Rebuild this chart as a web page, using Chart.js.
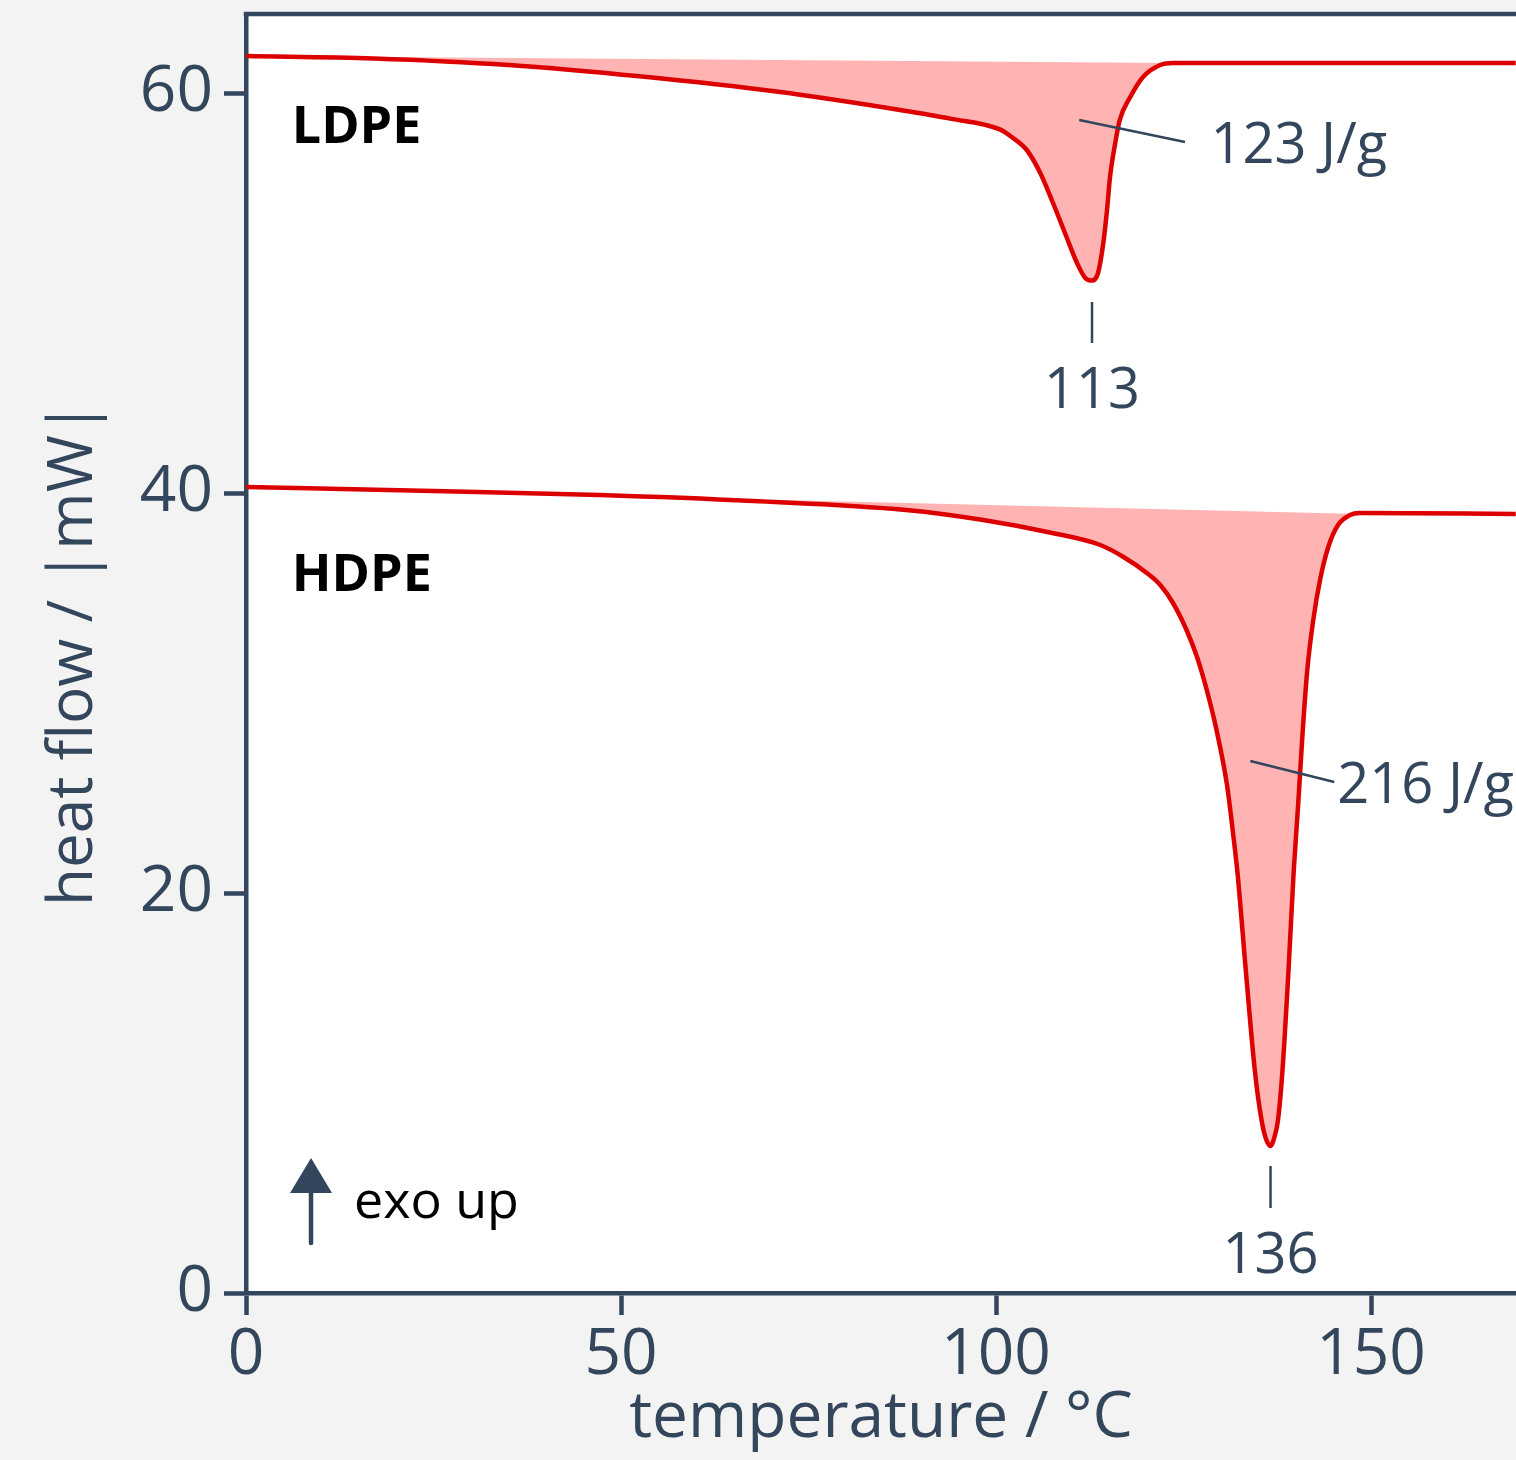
<!DOCTYPE html>
<html>
<head>
<meta charset="utf-8">
<title>DSC LDPE / HDPE</title>
<script src="https://cdn.jsdelivr.net/npm/chart.js@4.4.1/dist/chart.umd.min.js"></script>
<style>
  html, body { margin: 0; padding: 0; background: #f3f3f3; }
  canvas { display: block; }
</style>
</head>
<body>
<canvas id="dscChart" width="1516" height="1460"></canvas>
<script>
var ldpeTemp = [0, 17, 35, 52.8, 70.7, 87.2, 93.9, 100.5, 101.9, 104.1, 105.9, 107.6, 109.4, 110.8, 111.9, 112.8,
                113.6, 114.3, 114.8, 115.2, 115.9, 116.5, 117.9, 119.6, 121.9, 123.6, 169.3];
var ldpeFlow = [61.85, 61.73, 61.4, 60.82, 60.07, 59.15, 58.72, 58.18, 57.85, 57.15, 56.0, 54.5, 52.8, 51.5, 50.75, 50.62,
                51.0, 52.48, 54.15, 55.8, 57.5, 58.65, 59.8, 60.8, 61.4, 61.5, 61.5];
var ldpeBaseTemp = [0, 123.6, 169.3];
var ldpeBaseFlow = [61.85, 61.5, 61.5];

var hdpeTemp = [0, 25, 47.2, 67.6, 88, 98.3, 107.5, 113.9, 117, 120.1, 121.9, 123.6, 125.4, 126.8, 128.1, 129.4, 130.8,
                131.6, 132.2, 133.3, 134.5, 135.4, 136.0, 136.6, 137.2, 137.6, 138.2, 139.0, 139.7, 140.3, 140.84,
                141.5, 142.3, 143.2, 144.3, 145.6, 147.2, 148.5, 169.3];
var hdpeFlow = [40.3, 40.1, 39.9, 39.6, 39.15, 38.65, 38.0, 37.4, 36.8, 36.0, 35.4, 34.5, 33.15, 31.8, 30.15, 28.15, 25.4,
                23.0, 21.0, 16.15, 11.15, 8.65, 7.7, 7.35, 7.9, 8.65, 11.15, 16.15, 21.15, 24.5, 27.8,
                31.15, 33.65, 35.65, 37.3, 38.4, 38.9, 39.0, 38.95];
var hdpeBaseTemp = [0, 148.5, 169.3];
var hdpeBaseFlow = [40.3, 38.95, 38.95];

var sampleNames = ['LDPE', 'HDPE'];
var peakTemps = [112.8, 136.6];
var peakLabels = ['113', '136'];
var enthalpyLabels = ['123 J/g', '216 J/g'];

var tempTicks = [0, 50, 100, 150];
var flowTicks = [0, 20, 40, 60];

var slate = '#33465c';
var red = '#dd0000';
var pink = '#ffb3b3';
var fontName = "'Open Sans', 'Noto Sans', sans-serif";

function toPoints(xs, ys) {
  var pts = [];
  for (var i = 0; i < xs.length; i++) pts.push({x: xs[i], y: ys[i]});
  return pts;
}

// hintergrund, rahmen oben und beschriftungen
var dscDecor = {
  id: 'dscDecor',
  beforeDraw: function(chart) {
    var a = chart.chartArea, ctx = chart.ctx;
    ctx.save();
    ctx.fillStyle = '#f3f3f3';
    ctx.fillRect(0, 0, chart.width, chart.height);
    ctx.fillStyle = '#ffffff';
    ctx.fillRect(a.left, a.top, a.right - a.left, a.bottom - a.top);
    ctx.restore();
  },
  afterDraw: function(chart) {
    var ctx = chart.ctx, a = chart.chartArea;
    var sx = chart.scales.x, sy = chart.scales.y;
    var px = function(v) { return sx.getPixelForValue(v); };
    var py = function(v) { return sy.getPixelForValue(v); };

    ctx.save();
    ctx.strokeStyle = slate;
    ctx.lineWidth = 4.5;
    ctx.beginPath();
    ctx.moveTo(a.left - 2.25, a.top);
    ctx.lineTo(a.right, a.top);
    ctx.stroke();

    // probennamen
    ctx.fillStyle = '#000';
    ctx.font = 'bold 52px ' + fontName;
    ctx.textAlign = 'left';
    ctx.textBaseline = 'alphabetic';
    ctx.fillText(sampleNames[0], px(6.1), py(57.5));
    ctx.fillText(sampleNames[1], px(6.1), py(35.1));

    // schmelzpeaks
    ctx.strokeStyle = slate;
    ctx.fillStyle = slate;
    ctx.lineWidth = 2.5;
    ctx.font = '56px ' + fontName;
    var tickTop = [49.55, 6.35], tickBottom = [47.5, 4.25], labelBase = [44.25, 1.0];
    for (var i = 0; i < peakTemps.length; i++) {
      ctx.beginPath();
      ctx.moveTo(px(peakTemps[i]), py(tickTop[i]));
      ctx.lineTo(px(peakTemps[i]), py(tickBottom[i]));
      ctx.stroke();
      ctx.textAlign = 'center';
      ctx.fillText(peakLabels[i], px(peakTemps[i]), py(labelBase[i]));
    }

    // schmelzenthalpie mit hinweislinie
    var lead = [[111.1, 58.65, 125.2, 57.55], [133.9, 26.6, 145.1, 25.55]];
    var textPos = [[128.6, 56.5], [145.5, 24.5]];
    for (var j = 0; j < enthalpyLabels.length; j++) {
      ctx.beginPath();
      ctx.moveTo(px(lead[j][0]), py(lead[j][1]));
      ctx.lineTo(px(lead[j][2]), py(lead[j][3]));
      ctx.stroke();
      ctx.textAlign = 'left';
      ctx.fillText(enthalpyLabels[j], px(textPos[j][0]), py(textPos[j][1]));
    }

    // exo up pfeil
    var ax = px(8.67);
    ctx.lineWidth = 4.5;
    ctx.lineCap = 'round';
    ctx.beginPath();
    ctx.moveTo(ax, py(2.5));
    ctx.lineTo(ax, py(5.2));
    ctx.stroke();
    ctx.beginPath();
    ctx.moveTo(ax - 21, py(5.0));
    ctx.lineTo(ax + 21, py(5.0));
    ctx.lineTo(ax, py(6.75));
    ctx.closePath();
    ctx.fill();
    ctx.fillStyle = '#000';
    ctx.font = '52px ' + fontName;
    ctx.textAlign = 'left';
    ctx.fillText('exo up', px(14.4), py(3.75));
    ctx.restore();
  }
};

Chart.defaults.font.family = fontName;

var ctx = document.getElementById('dscChart').getContext('2d');
var dscChart = new Chart(ctx, {
  type: 'line',
  data: {
    datasets: [
      { label: 'LDPE Basislinie', data: toPoints(ldpeBaseTemp, ldpeBaseFlow), borderColor: 'rgba(0,0,0,0)',
        borderWidth: 0, pointRadius: 0, fill: false },
      { label: 'LDPE', data: toPoints(ldpeTemp, ldpeFlow), borderColor: red, borderWidth: 4.5,
        backgroundColor: pink, pointRadius: 0, cubicInterpolationMode: 'monotone', fill: 0 },
      { label: 'HDPE Basislinie', data: toPoints(hdpeBaseTemp, hdpeBaseFlow), borderColor: 'rgba(0,0,0,0)',
        borderWidth: 0, pointRadius: 0, fill: false },
      { label: 'HDPE', data: toPoints(hdpeTemp, hdpeFlow), borderColor: red, borderWidth: 4.5,
        backgroundColor: pink, pointRadius: 0, cubicInterpolationMode: 'monotone', fill: 2 }
    ]
  },
  options: {
    responsive: false,
    animation: false,
    layout: { padding: { top: 14, right: 0, bottom: 0, left: 0 } },
    plugins: {
      legend: { display: false },
      tooltip: { enabled: false }
    },
    scales: {
      x: {
        type: 'linear',
        min: 0,
        max: 169.33,
        afterFit: function(s) { s.height = 167; s.paddingLeft = 0; s.paddingRight = 0; },
        afterBuildTicks: function(s) { s.ticks = tempTicks.map(function(v) { return {value: v}; }); },
        border: { display: true, color: slate, width: 4.5 },
        grid: { drawOnChartArea: false, drawTicks: true, tickLength: 22, tickWidth: 4.5, tickColor: slate, color: slate },
        ticks: { color: slate, padding: 2, font: { size: 64 } },
        title: { display: true, text: 'temperature / °C', color: slate, font: { size: 64 }, padding: { top: 0, bottom: 3 } }
      },
      y: {
        type: 'linear',
        min: 0,
        max: 63.95,
        afterFit: function(s) { s.width = 246; s.paddingTop = 0; s.paddingBottom = 0; },
        afterBuildTicks: function(s) { s.ticks = flowTicks.map(function(v) { return {value: v}; }); },
        border: { display: true, color: slate, width: 4.5 },
        grid: { drawOnChartArea: false, drawTicks: true, tickLength: 22, tickWidth: 4.5, tickColor: slate, color: slate },
        ticks: { color: slate, padding: 11, font: { size: 64 } },
        title: { display: true, text: 'heat flow / |mW|', color: slate, font: { size: 62 }, padding: { top: 37, bottom: 0 } }
      }
    }
  },
  plugins: [dscDecor]
});
</script>
</body>
</html>
